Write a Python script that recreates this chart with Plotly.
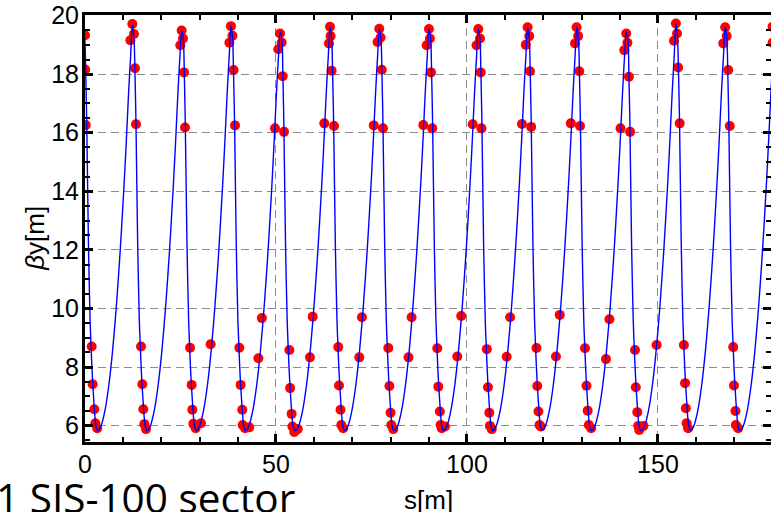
import plotly.graph_objects as go

# ---------------- data ----------------
# lattice cells: position of each beta_y maximum [m] and its height [m]
peak_s = [-0.50, 12.39, 25.30, 38.20, 51.10, 64.14, 77.05, 90.05, 102.96,
          115.87, 128.75, 141.70, 154.70, 167.60, 180.55]
peak_beta = [19.50, 19.68, 19.50, 19.64, 19.45, 19.62, 19.55, 19.54, 19.54,
             19.60, 19.60, 19.45, 19.73, 19.60, 19.50]

# shape of one cell: offset from the cell maximum [m], beta_y [m]
cell_offset = [-9.16, -8.66, -8.16, -7.16, -6.16, -5.16, -4.16, -3.16, -2.16,
               -1.56, -0.96, -0.45, 0.00, 0.44, 0.70, 0.96, 1.40, 1.83, 2.15,
               2.44, 2.97, 3.32, 3.75]
cell_beta = [5.83, 5.87, 6.00, 6.52, 7.37, 8.57, 10.12, 12.00, 14.23,
             15.75, 17.40, 18.60, None, 19.20, 18.00, 16.30, 12.20, 9.60, 8.50,
             7.65, 6.53, 6.02, 5.83]

# measured points (red dots)
dot_s = [0.00, 0.05, 0.20,
         1.75, 2.00, 2.44, 2.70, 3.20,
         11.87, 12.39, 12.83, 13.09, 13.35,
         14.66, 15.00, 15.27, 15.53, 15.97,
         24.95, 25.30, 25.65, 25.92, 26.18,
         27.50, 27.92, 28.10, 28.36, 28.97, 30.37, 32.90,
         37.80, 38.20, 38.60, 38.90, 39.27,
         40.40, 40.75, 41.18, 41.28, 41.90, 43.00, 45.40, 46.30,
         49.74, 50.60, 51.05, 51.50, 51.75, 52.10,
         53.50, 53.70, 54.10, 54.30, 54.80, 55.70, 58.90, 59.60,
         62.65, 63.87, 64.14, 64.30, 64.57, 65.20,
         66.30, 66.50, 66.90, 67.10, 67.60, 71.80, 72.50,
         75.60, 76.60, 77.05, 77.40, 77.70, 78.00,
         79.40, 79.70, 80.00, 80.20, 80.70, 84.70, 85.50,
         88.57, 89.45, 90.05, 90.30, 90.58, 90.90,
         92.23, 92.50, 92.90, 93.10, 93.40, 94.24, 97.47, 98.50,
         101.50, 102.50, 102.96, 103.40, 103.60, 103.80,
         105.20, 105.50, 105.85, 106.00, 106.50, 110.40, 111.30,
         114.40, 115.40, 115.87, 116.30, 116.50, 116.80,
         118.20, 118.40, 118.70, 119.00, 119.30, 123.30, 124.30,
         127.20, 128.30, 128.70, 129.10, 129.40, 129.60,
         130.90, 131.30, 131.60, 131.90, 132.50, 136.40, 137.30,
         140.20, 141.20, 141.70, 142.00, 142.40, 142.70,
         144.00, 144.20, 144.60, 144.85, 145.10, 146.20, 149.65,
         154.20, 154.70, 155.00, 155.30, 155.70,
         156.80, 157.10, 157.30, 157.50, 157.90,
         167.10, 167.60, 168.00, 168.40, 168.80,
         169.70, 169.90, 170.30, 170.40, 171.00,
         180.00, 180.00]
dot_beta = [19.33, 18.16, 16.26,
            8.70, 7.41, 6.56, 6.08, 5.91,
            19.16, 19.71, 19.37, 18.20, 16.29,
            8.70, 7.41, 6.56, 6.05, 5.88,
            18.99, 19.49, 19.22, 18.06, 16.18,
            8.66, 7.39, 6.54, 6.06, 5.91, 6.08, 8.78,
            19.07, 19.64, 19.31, 18.14, 16.25,
            8.66, 7.39, 6.54, 6.02, 5.91, 5.94, 8.30, 9.67,
            16.15, 18.85, 19.39, 19.08, 17.93, 16.03,
            8.58, 7.28, 6.40, 5.97, 5.78, 5.88, 8.33, 9.72,
            16.32, 19.05, 19.62, 19.30, 18.12, 16.23,
            8.68, 7.37, 6.54, 6.02, 5.91, 8.33, 9.70,
            16.25, 19.10, 19.55, 19.25, 18.15, 16.15,
            8.65, 7.35, 6.44, 6.02, 5.88, 8.33, 9.70,
            16.26, 18.99, 19.54, 19.22, 18.06, 16.15,
            8.64, 7.33, 6.48, 6.02, 5.91, 5.97, 8.36, 9.74,
            16.29, 18.99, 19.54, 19.22, 18.06, 16.15,
            8.61, 7.31, 6.44, 5.99, 5.88, 8.35, 9.70,
            16.30, 19.00, 19.60, 19.30, 18.10, 16.20,
            8.65, 7.35, 6.48, 6.02, 5.97, 8.36, 9.78,
            16.32, 19.05, 19.60, 19.30, 18.10, 16.23,
            8.64, 7.36, 6.51, 6.02, 5.91, 8.27, 9.63,
            16.15, 18.82, 19.39, 19.07, 17.91, 16.03,
            8.58, 7.31, 6.46, 5.99, 5.85, 5.99, 8.75,
            19.14, 19.73, 19.39, 18.23, 16.32,
            8.75, 7.45, 6.59, 6.08, 5.91,
            19.05, 19.60, 19.30, 18.14, 16.23,
            8.68, 7.37, 6.50, 6.02, 5.91,
            19.62, 19.07]

x_ticks = [0, 50, 100, 150]
y_ticks = [6, 8, 10, 12, 14, 16, 18, 20]

# ---------------- build the curve from the cells ----------------
line_s, line_b = [], []
for p, h in zip(peak_s, peak_beta):
    for d, b in zip(cell_offset, cell_beta):
        line_s.append(p + d)
        line_b.append(h if b is None else b)

FONT = "Liberation Sans, Arial, sans-serif"

fig = go.Figure()
fig.add_trace(go.Scatter(x=dot_s, y=dot_beta, mode="markers",
                         marker=dict(color="#ff0000", size=10, line=dict(width=0)),
                         showlegend=False, hoverinfo="skip"))
fig.add_trace(go.Scatter(x=line_s, y=line_b, mode="lines",
                         line=dict(color="#0000ff", width=1.4, shape="spline", smoothing=0.8),
                         showlegend=False, hoverinfo="skip"))

axis_common = dict(showline=True, linewidth=3, linecolor="black", mirror="ticks",
                   ticks="inside", ticklen=8, tickwidth=2.5, tickcolor="black",
                   showgrid=True, gridcolor="#8c8c8c", griddash="8px,5px", gridwidth=1.2,
                   zeroline=False, automargin=False,
                   tickfont=dict(family=FONT, size=25, color="black"))

fig.update_xaxes(range=[0, 179.6], tickvals=x_ticks, ticklabelstandoff=-2,
                 minor=dict(dtick=10, tick0=0, ticklen=5, tickwidth=2, ticks="inside",
                            tickcolor="black", showgrid=False),
                 **axis_common)
fig.update_yaxes(range=[5.44, 20.02], tickvals=y_ticks, ticklabelstandoff=-2,
                 minor=dict(dtick=0.5, tick0=0, ticklen=5, tickwidth=2, ticks="inside",
                            tickcolor="black", showgrid=False),
                 **axis_common)

fig.add_annotation(text="<i>β</i>y[m]", xref="paper", yref="paper",
                   x=-0.073, y=0.478, textangle=-90, showarrow=False,
                   xanchor="center", yanchor="middle",
                   font=dict(family=FONT, size=26, color="black"))
fig.add_annotation(text="s[m]", xref="paper", yref="paper",
                   x=0.5, y=-0.136, showarrow=False,
                   xanchor="center", yanchor="middle",
                   font=dict(family=FONT, size=26, color="black"))
fig.add_annotation(text="1 SIS-100 sector", xref="paper", yref="paper",
                   x=-0.132, y=-0.130, showarrow=False,
                   xanchor="left", yanchor="middle",
                   font=dict(family="Open Sans, sans-serif", size=40.5, color="black"))

fig.update_layout(width=771, height=512, margin=dict(l=85, r=0, t=15, b=70),
                  plot_bgcolor="white", paper_bgcolor="white")

fig.write_html("out.html", config={"displayModeBar": False},
               post_script="document.body.style.margin='0';document.body.style.overflow='hidden';")
